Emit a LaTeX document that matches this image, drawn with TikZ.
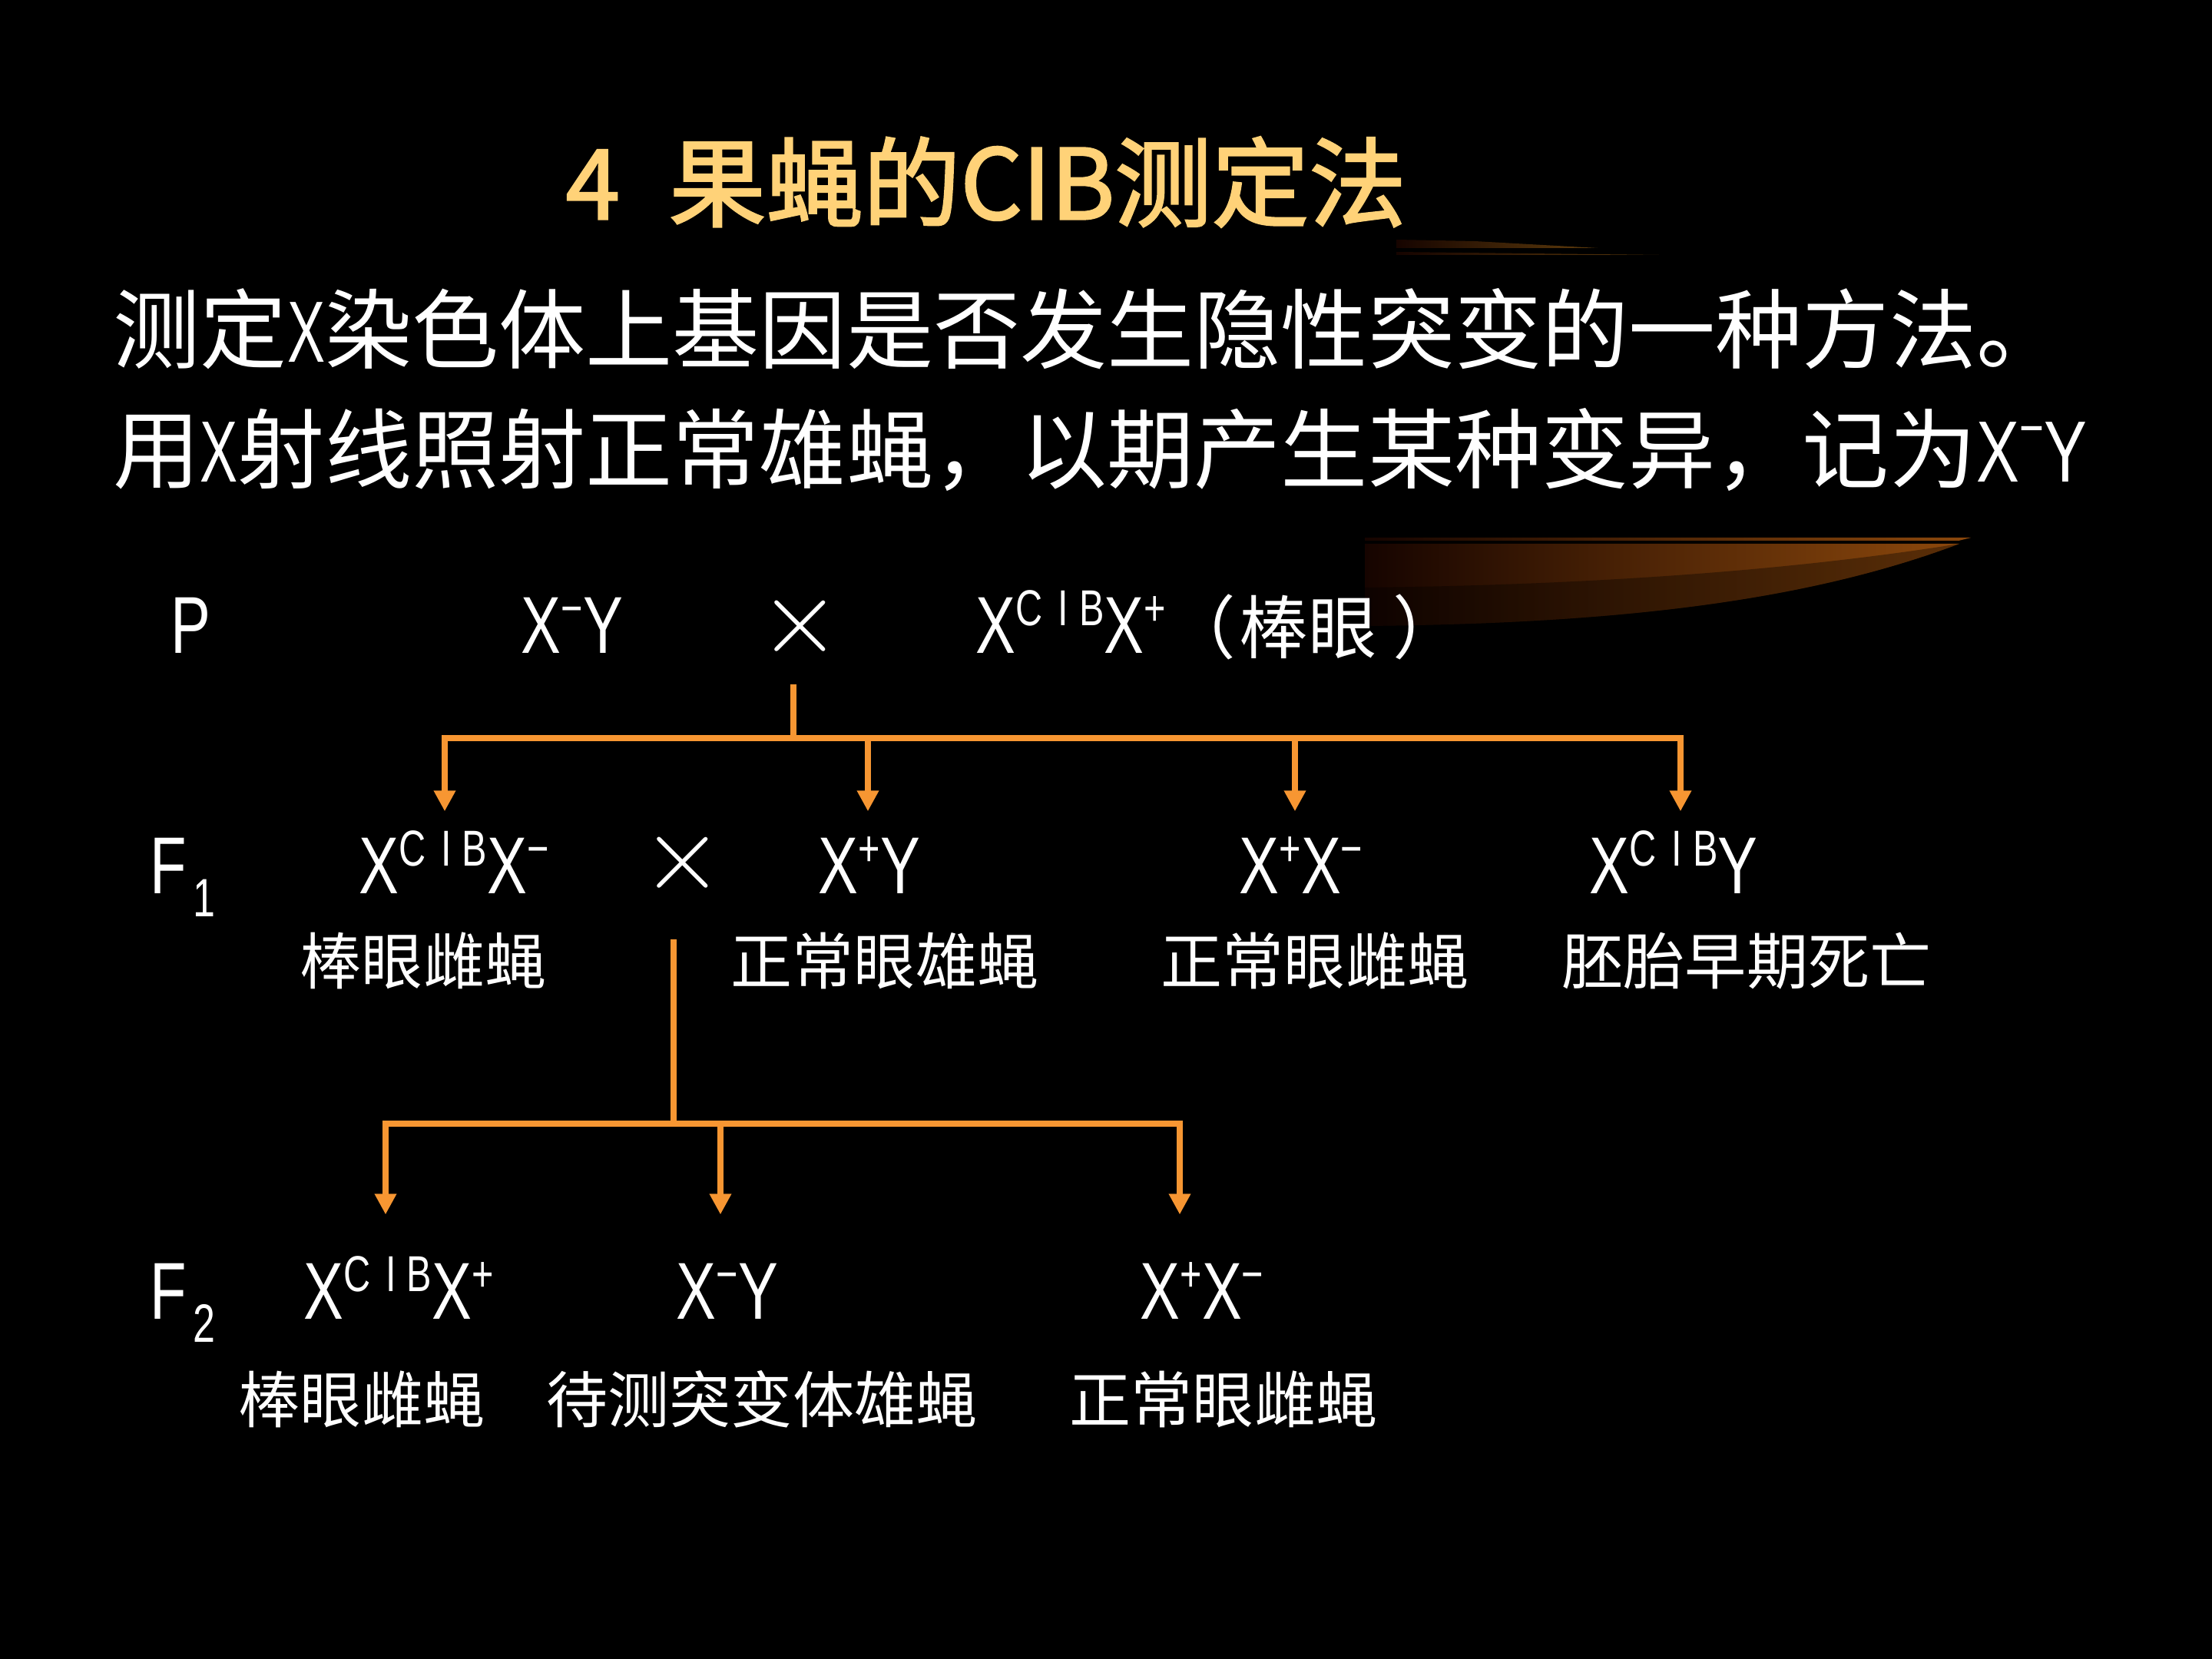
\documentclass[tikz,border=0pt]{standalone}
\usepackage{fontspec}
\setmainfont{Noto Sans CJK SC}
\newfontfamily\titlefont{Noto Sans CJK SC}[FakeBold=2]
\newfontfamily\nar{Liberation Sans}[FakeStretch=0.74]
\newfontfamily\narb{Liberation Sans}[FakeStretch=0.65]
\newfontfamily\crossfont{lmroman10-regular}[Extension=.otf]
\usetikzlibrary{arrows.meta}
\definecolor{slidegold}{RGB}{255,210,120}
\definecolor{treeorange}{RGB}{247,150,50}
\definecolor{swooshdark}{RGB}{22,4,0}
\definecolor{swooshmid}{RGB}{72,34,6}
\definecolor{swooshbrown}{RGB}{140,72,12}
\definecolor{swooshdim}{RGB}{95,60,12}
% genotype superscripts and subscripts
\newcommand{\gsup}[1]{\raisebox{0.36cm}{\fontsize{18.7}{20}\selectfont #1}}
\newcommand{\gsub}[1]{\kern0.08cm\raisebox{-0.30cm}{\fontsize{20}{22}\selectfont #1}}
\newcommand{\clb}{\gsup{C\kern0.2cm I\kern0.14cm B}}
\begin{document}
\begin{tikzpicture}[
  title/.style={font=\titlefont\fontsize{36}{40}\selectfont,text=slidegold,inner sep=0pt,anchor=west},
  body/.style={font=\fontsize{32.2}{36}\selectfont,text=white,inner sep=0pt,anchor=west},
  geno/.style={font=\nar\fontsize{29.9}{32}\selectfont,text=white,inner sep=0pt,anchor=base,text height=1.06cm},
  geno2/.style={geno,text height=1.35cm},
  lbl/.style={font=\fontsize{22.8}{26}\selectfont,text=white,inner sep=0pt},
  cross/.style={font=\crossfont\fontsize{39}{42}\selectfont,text=white,inner sep=0pt},
  branch/.style={draw=treeorange,line width=0.08cm},
  drop/.style={branch,{Triangle[length=0.27cm,width=0.27cm]}-},
]
\fill[black] (0,0) rectangle (28.8,-21.6);
\useasboundingbox (0,0) rectangle (28.8,-21.6);

% swooshes
\shade[left color=swooshdark,right color=swooshdim] (18.18,-3.12) -- (19.2,-3.14) .. controls (20.0,-3.18) .. (20.80,-3.23) -- (18.18,-3.23) -- cycle;
\shade[left color=swooshdark,right color=swooshdim] (18.18,-3.28) -- (21.60,-3.32) -- (18.18,-3.32) -- cycle;
\shade[left color=swooshdark,right color=swooshbrown] (17.77,-7.00) -- (25.66,-7.00) -- (25.50,-7.04) -- (17.77,-7.04) -- cycle;
\shade[left color=swooshdark,middle color=swooshmid,right color=swooshbrown] (17.77,-7.08) -- (25.51,-7.08) .. controls (23.6,-7.80) and (21.2,-8.12) .. (17.77,-8.15) -- cycle;
\fill[black,opacity=0.35] (17.77,-7.65) .. controls (20.5,-7.62) and (23.2,-7.45) .. (25.51,-7.08) .. controls (23.6,-7.80) and (21.2,-8.12) .. (17.77,-8.15) -- cycle;

% title and text
\node[title] (title) at (7.36,-2.37) {4\hspace{0.64cm}果蝇的CIB测定法};
\node[body] (line1) at (1.47,-4.28) {测定{\narb X}染色体上基因是否发生隐性突变的一种方法。};
\node[body] (line2) at (1.47,-5.86) {用{\narb X}射线照射正常雄蝇，以期产生某种变异，记为{\nar X\raisebox{0.45cm}{\fontsize{21}{21}\selectfont −}Y}};

% P
\node[geno] (gp) at (2.48,-8.51) {P};
\node[geno] (pmale) at (7.45,-8.51) {X\gsup{−}Y};
\node[cross] (pcross) at (10.42,-8.15) {×};
\node[geno,anchor=base west] (pfemale) at (12.70,-8.51) {X\clb X\gsup{+}};
\node[lbl,font=\fontsize{25.5}{28}\selectfont,anchor=base west] (peye) at (pfemale.base east) {（\kern0.05cm棒眼\kern0.2cm）};

% F1
\node[geno] (gf1) at (2.38,-11.63) {F\gsub{1}};
\node[geno] (f1a) at (5.91,-11.63) {X\clb X\gsup{−}};
\node[cross] (f1x) at (8.89,-11.23) {×};
\node[geno] (f1b) at (11.32,-11.63) {X\gsup{+}Y};
\node[geno] (f1c) at (16.94,-11.63) {X\gsup{+}X\gsup{−}};
\node[geno] (f1d) at (21.79,-11.63) {X\clb Y};
\node[lbl] (n1a) at (5.51,-12.51) {棒眼雌蝇};
\node[lbl] (n1b) at (11.52,-12.51) {正常眼雄蝇};
\node[lbl] (n1c) at (17.12,-12.51) {正常眼雌蝇};
\node[lbl] (n1d) at (22.74,-12.51) {胚胎早期死亡};

% F2
\node[geno2] (gf2) at (2.38,-17.17) {F\gsub{2}};
\node[geno2] (f2a) at (5.19,-17.17) {X\clb X\gsup{+}};
\node[geno2] (f2b) at (9.47,-17.17) {X\gsup{−}Y};
\node[geno2] (f2c) at (15.65,-17.17) {X\gsup{+}X\gsup{−}};
\node[lbl] (n2a) at (4.71,-18.22) {棒眼雌蝇};
\node[lbl] (n2b) at (9.92,-18.22) {待测突变体雄蝇};
\node[lbl] (n2c) at (15.93,-18.22) {正常眼雌蝇};

% crosses
\coordinate (pstem) at (10.33,-8.91);
\coordinate (pbar) at (10.33,-9.61);
\draw[branch] (pstem) -- (pbar);
\foreach \n/\dx in {f1a/-0.12,f1b/-0.02,f1c/-0.08,f1d/0.09}
  \draw[drop] ([xshift=\dx cm]\n.north) |- (pbar);
\coordinate (f1stem) at (8.77,-12.23);
\coordinate (f1bar) at (8.77,-14.63);
\draw[branch] (f1stem) -- (f1bar);
\foreach \n/\dx in {f2a/-0.17,f2b/-0.09,f2c/-0.29}
  \draw[drop] ([xshift=\dx cm]\n.north) |- (f1bar);
\end{tikzpicture}
\end{document}
